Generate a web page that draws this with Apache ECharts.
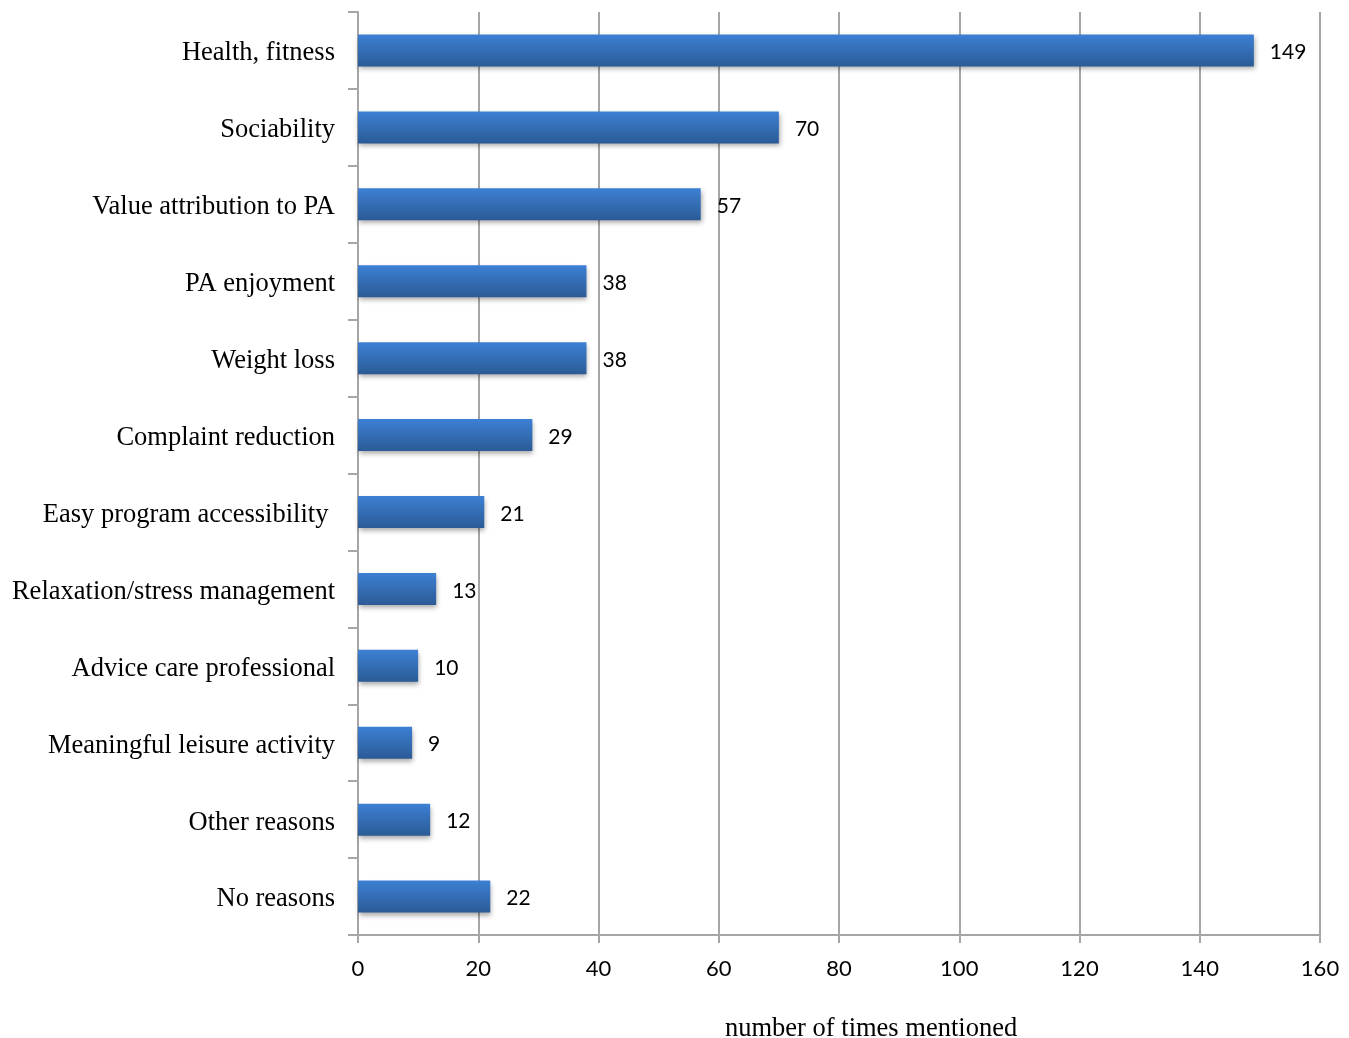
<!DOCTYPE html>
<html>
<head>
<meta charset="utf-8">
<style>html,body{margin:0;padding:0;background:#fff;}#c{width:1349px;height:1038px;}</style>
<script src="https://cdn.jsdelivr.net/npm/echarts@6/dist/echarts.min.js"></script>
</head>
<body>
<div id="c"></div>
<script>
const categories = ["Health, fitness","Sociability","Value attribution to PA","PA enjoyment","Weight loss","Complaint reduction","Easy program accessibility ","Relaxation/stress management","Advice care professional","Meaningful leisure activity","Other reasons","No reasons"];
const values = [149,70,57,38,38,29,21,13,10,9,12,22];
const xTicks = {min:0,max:160,interval:20};
const xName = "number of times mentioned";

const chart = echarts.init(document.getElementById('c'));
chart.setOption({
  animation:false,
  backgroundColor:'#fff',
  grid:{left:358,right:29,top:12,bottom:103,containLabel:false},
  xAxis:{type:'value',min:xTicks.min,max:xTicks.max,interval:xTicks.interval,
    axisLine:{show:true,lineStyle:{color:'#a6a6a6',width:2}},
    axisTick:{show:true,length:8,lineStyle:{color:'#a6a6a6',width:2}},
    splitLine:{show:true,lineStyle:{color:'#a6a6a6',width:2}},
    axisLabel:{fontFamily:'Lato',fontSize:22,color:'#000',margin:23}},
  yAxis:{type:'category',data:categories,inverse:true,
    axisLine:{show:true,lineStyle:{color:'#a6a6a6',width:2}},
    axisTick:{show:true,length:10,inside:false,lineStyle:{color:'#a6a6a6',width:2}},
    axisLabel:{color:'#000',margin:23,formatter:function(v){return '{a|'+v+'}';},
      rich:{a:{fontFamily:'Liberation Serif',fontSize:26.5,color:'#000',padding:[6,0,0,0]}}}},
  graphic:[{type:'text',left:725,top:1016,style:{text:xName,font:'26.5px "Liberation Serif"',fill:'#000'}}],
  series:[{type:'bar',data:values,barWidth:32,
    itemStyle:{color:new echarts.graphic.LinearGradient(0,0,0,1,[{offset:0,color:'#3d80d4'},{offset:1,color:'#2b5b96'}]),
      shadowColor:'rgba(0,0,0,0.35)',shadowBlur:5,shadowOffsetY:3,shadowOffsetX:1},
    label:{show:true,position:'right',distance:16,fontFamily:'Lato',fontSize:21,color:'#000',offset:[0,2]}}]
});
</script>
</body>
</html>
